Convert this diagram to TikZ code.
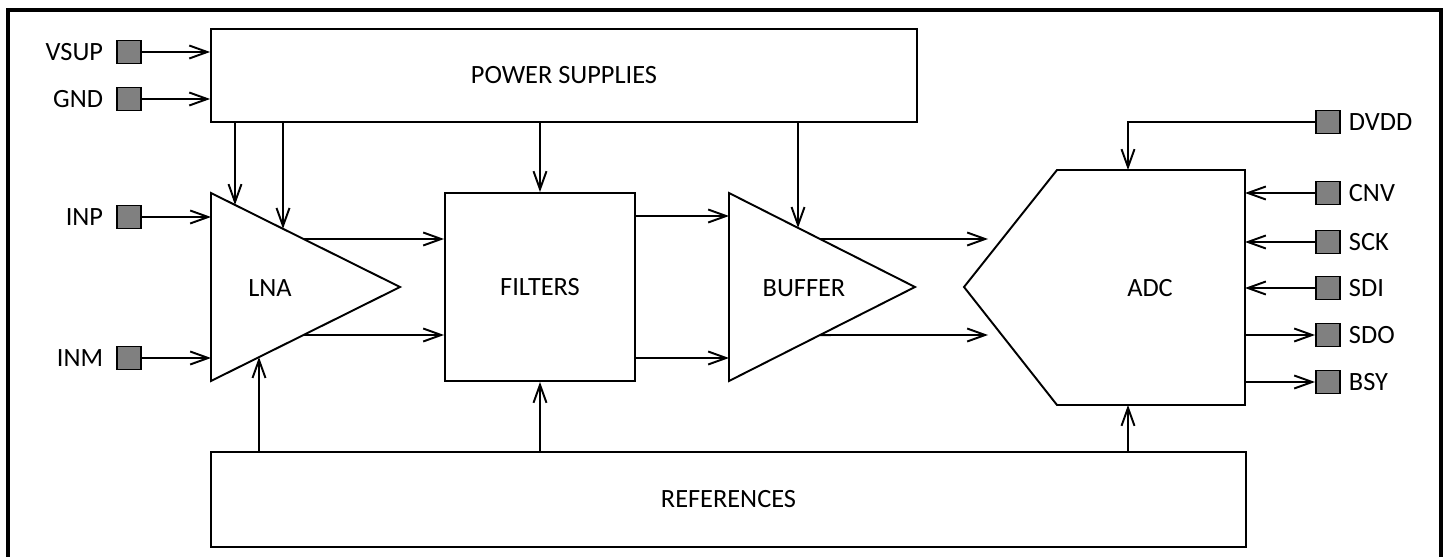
\documentclass[tikz,border=0pt]{standalone}
\usepackage{fontspec}
\setmainfont{Carlito}
\definecolor{padgray}{RGB}{128,128,128}
\usetikzlibrary{arrows.meta, positioning}
\tikzset{
>={Straight Barb[length=3.6mm, width=2.6mm]}, % open arrow heads
every node/.style={font=\fontsize{15}{18}\selectfont}, % text size for all labels
block/.style={draw, line width=1.1pt, fill=white, inner sep=0pt}, % sets the properties for each block
pad/.style={draw, line width=1.1pt, fill=padgray, minimum width=0.48cm, minimum height=0.46cm, inner sep=0pt}, % pins
pinname/.style={inner sep=0pt}, % pin names
}

\begin{document}
\begin{tikzpicture}[x=0.02cm, y=-0.02cm, line width=1.1pt]
      \useasboundingbox (0,0) rectangle (1447,557);
      \draw[line width=1.8pt] (8,557) -- (8,10) -- (1441,10) -- (1441,557);

      % blocks
      \node[block, minimum width=14.12cm, minimum height=1.86cm] (ps) at (564,75.5) {POWER SUPPLIES};
      \node[block, minimum width=3.8cm, minimum height=3.76cm] (filt) at (540,287) {FILTERS};
      \node[block, minimum width=20.7cm, minimum height=1.9cm] (ref) at (728.5,499.5) {REFERENCES};

      \coordinate (lna-t) at (211,193);
      \coordinate (lna-b) at (211,381);
      \coordinate (lna-o) at (400,287);
      \draw (lna-t) -- (lna-o) -- (lna-b) -- cycle;
      \node at (270,288) (lna) {LNA};

      \coordinate (buf-t) at (729,193);
      \coordinate (buf-b) at (729,381);
      \coordinate (buf-o) at (915,287);
      \draw (buf-t) -- (buf-o) -- (buf-b) -- cycle;
      \node at (804,288) (buf) {BUFFER};

      \coordinate (adc-l) at (964,287);
      \coordinate (adc-tl) at (1057,170);
      \coordinate (adc-tr) at (1245,170);
      \coordinate (adc-br) at (1245,405);
      \coordinate (adc-bl) at (1057,405);
      \draw (adc-l) -- (adc-tl) -- (adc-tr) -- (adc-br) -- (adc-bl) -- cycle;
      \node at (1150,288) (adc) {ADC};

      % pins
      \node[pad] (vsup) at (129,52) {};
      \node[pad] (gnd) at (129,99) {};
      \node[pad] (inp) at (129,217) {};
      \node[pad] (inm) at (129,358) {};
      \node[pinname, left=0.24cm of vsup] (vsup-l) {VSUP};
      \node[pinname, left=0.24cm of gnd] (gnd-l) {GND};
      \node[pinname, left=0.24cm of inp] (inp-l) {INP};
      \node[pinname, left=0.24cm of inm] (inm-l) {INM};

      \node[pad] (dvdd) at (1328,122) {};
      \node[pad] (cnv) at (1328,193) {};
      \node[pad] (sck) at (1328,242) {};
      \node[pad] (sdi) at (1328,288) {};
      \node[pad] (sdo) at (1328,335) {};
      \node[pad] (bsy) at (1328,382) {};
      \node[pinname, right=0.14cm of dvdd] (dvdd-l) {DVDD};
      \node[pinname, right=0.14cm of cnv] (cnv-l) {CNV};
      \node[pinname, right=0.14cm of sck] (sck-l) {SCK};
      \node[pinname, right=0.14cm of sdi] (sdi-l) {SDI};
      \node[pinname, right=0.14cm of sdo] (sdo-l) {SDO};
      \node[pinname, right=0.14cm of bsy] (bsy-l) {BSY};

      % taps on the slanted edges
      \coordinate (lna-v1) at (intersection of lna-t--lna-o and 235,0--235,600);
      \coordinate (lna-v2) at (intersection of lna-t--lna-o and 283,0--283,600);
      \coordinate (lna-r) at (intersection of lna-b--lna-o and 259,0--259,600);
      \coordinate (lna-o1) at (intersection of lna-t--lna-o and 0,239--1400,239);
      \coordinate (lna-o2) at (intersection of lna-b--lna-o and 0,335--1400,335);
      \coordinate (buf-v) at (intersection of buf-t--buf-o and 798,0--798,600);
      \coordinate (buf-o1) at (intersection of buf-t--buf-o and 0,239--1400,239);
      \coordinate (buf-o2) at (intersection of buf-b--buf-o and 0,335--1400,335);
      \coordinate (buf-i1) at (729,216);
      \coordinate (buf-i2) at (729,358);
      \coordinate (adc-i1) at (988,239);
      \coordinate (adc-i2) at (988,335);
      \coordinate (adc-d) at (1128,170);
      \coordinate (adc-r) at (1128,405);

      % connections
      \draw[->] (vsup) -- (vsup -| ps.west);
      \draw[->] (gnd) -- (gnd -| ps.west);
      \draw[->] (inp) -- (inp -| lna-t);
      \draw[->] (inm) -- (inm -| lna-t);

      \draw[->] (ps.south -| lna-v1) -- (lna-v1);
      \draw[->] (ps.south -| lna-v2) -- (lna-v2);
      \draw[->] (ps.south -| filt.north) -- (filt.north);
      \draw[->] (ps.south -| buf-v) -- (buf-v);

      \draw[->] (lna-o1) -- (lna-o1 -| filt.west);
      \draw[->] (lna-o2) -- (lna-o2 -| filt.west);
      \draw[->] (buf-i1 -| filt.east) -- (buf-i1);
      \draw[->] (buf-i2 -| filt.east) -- (buf-i2);
      \draw[->] (buf-o1) -- (adc-i1);
      \draw[->] (buf-o2) -- (adc-i2);

      \draw[->] (ref.north -| lna-r) -- (lna-r);
      \draw[->] (ref.north -| filt.south) -- (filt.south);
      \draw[->] (ref.north -| adc-r) -- (adc-r);

      \draw[->] (dvdd) -| (adc-d);
      \draw[->] (cnv) -- (cnv -| adc-tr);
      \draw[->] (sck) -- (sck -| adc-tr);
      \draw[->] (sdi) -- (sdi -| adc-tr);
      \draw[->] (sdo -| adc-tr) -- (sdo);
      \draw[->] (bsy -| adc-tr) -- (bsy);
\end{tikzpicture}
\end{document}
